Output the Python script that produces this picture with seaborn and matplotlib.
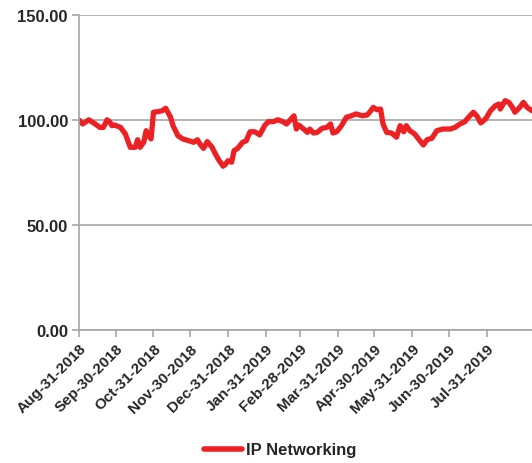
import pandas as pd
import matplotlib
matplotlib.use("Agg")
import matplotlib.pyplot as plt
import matplotlib.dates as mdates
import seaborn as sns

dates = [
    "2018-08-31", "2018-09-03", "2018-09-08", "2018-09-12", "2018-09-14", "2018-09-17",
    "2018-09-20", "2018-09-23", "2018-09-25", "2018-09-27", "2018-09-29", "2018-10-04",
    "2018-10-08", "2018-10-10", "2018-10-12", "2018-10-16", "2018-10-18", "2018-10-20",
    "2018-10-23", "2018-10-25", "2018-10-27", "2018-10-29", "2018-10-31", "2018-11-04",
    "2018-11-07", "2018-11-10", "2018-11-14", "2018-11-16", "2018-11-20", "2018-11-24",
    "2018-11-29", "2018-12-03", "2018-12-06", "2018-12-08", "2018-12-11", "2018-12-14",
    "2018-12-18", "2018-12-20", "2018-12-23", "2018-12-27", "2018-12-29", "2018-12-31",
    "2019-01-03", "2019-01-05", "2019-01-08", "2019-01-12", "2019-01-15", "2019-01-18",
    "2019-01-22", "2019-01-26", "2019-01-30", "2019-02-02", "2019-02-06", "2019-02-10",
    "2019-02-14", "2019-02-17", "2019-02-23", "2019-02-25", "2019-02-27", "2019-03-03",
    "2019-03-06", "2019-03-08", "2019-03-11", "2019-03-14", "2019-03-18", "2019-03-22",
    "2019-03-25", "2019-03-27", "2019-03-30", "2019-04-03", "2019-04-07", "2019-04-11",
    "2019-04-15", "2019-04-20", "2019-04-24", "2019-04-26", "2019-04-29", "2019-05-02",
    "2019-05-05", "2019-05-07", "2019-05-10", "2019-05-14", "2019-05-18", "2019-05-21",
    "2019-05-24", "2019-05-26", "2019-05-29", "2019-06-02", "2019-06-05", "2019-06-09",
    "2019-06-12", "2019-06-16", "2019-06-20", "2019-06-25", "2019-07-01", "2019-07-05",
    "2019-07-09", "2019-07-13", "2019-07-16", "2019-07-20", "2019-07-23", "2019-07-26",
    "2019-07-30", "2019-08-03", "2019-08-07", "2019-08-10", "2019-08-11", "2019-08-15",
    "2019-08-18", "2019-08-21", "2019-08-23", "2019-08-27", "2019-08-30", "2019-09-02",
    "2019-09-06",
]

values = [
    100.0, 98.1, 100.1, 98.6, 97.8, 96.5,
    96.5, 100.1, 99.2, 97.3, 97.6, 96.5,
    93.3, 90.1, 87.0, 87.0, 90.6, 87.0,
    89.4, 94.9, 92.5, 91.0, 103.7, 104.0,
    104.4, 105.6, 101.3, 97.3, 92.5, 91.0,
    90.1, 89.4, 90.6, 88.6, 86.5, 89.7,
    87.0, 84.6, 81.4, 78.0, 79.0, 80.6,
    79.9, 85.4, 86.5, 89.4, 90.1, 94.4,
    94.4, 92.9, 97.3, 99.2, 99.2, 100.1,
    99.2, 98.1, 102.0, 95.7, 97.6, 95.7,
    94.1, 95.7, 93.8, 94.1, 96.0, 96.5,
    98.1, 93.8, 94.4, 97.3, 101.3, 102.0,
    102.9, 102.0, 102.4, 103.7, 106.0, 104.9,
    105.2, 98.1, 94.1, 93.8, 91.8, 97.3,
    94.4, 97.3, 94.9, 93.3, 91.0, 88.1,
    90.6, 91.3, 94.9, 95.7, 95.7, 96.5,
    98.1, 99.2, 101.3, 103.7, 101.8, 98.6,
    100.5, 104.4, 106.8, 107.6, 105.2, 109.2,
    108.4, 106.0, 103.7, 106.0, 108.4, 106.0,
    104.4,
]

series_name = "IP Networking"
month_ticks = pd.date_range("2018-08-31", "2019-07-31", freq="ME")

df = pd.DataFrame({"Date": pd.to_datetime(dates), "Value": values, "Series": series_name})

sns.set_style("white")
plt.rcParams["font.family"] = ["Liberation Sans", "DejaVu Sans"]
plt.rcParams["font.weight"] = "bold"

fig = plt.figure(figsize=(5.32, 4.64), dpi=100)
ax = fig.add_axes([79 / 532, 1 - 331 / 464, 1 - 79 / 532, (331 - 16) / 464])

sns.lineplot(data=df, x="Date", y="Value", hue="Series", palette=["#ED2024"],
             linewidth=3.8, ax=ax, legend=False)

ax.set_ylim(0, 150)
ax.set_yticks([0, 50, 100, 150])
ax.set_yticklabels([f"{v:.2f}" for v in [0, 50, 100, 150]], fontsize=12, fontweight="bold")
ax.set_xlim(pd.Timestamp("2018-08-31"), pd.Timestamp("2019-09-06"))
ax.set_xticks(month_ticks)
ax.xaxis.set_major_formatter(mdates.DateFormatter("%b-%d-%Y"))
plt.setp(ax.get_xticklabels(), rotation=45, ha="right", rotation_mode="anchor",
         fontsize=11, fontweight="bold")

ax.grid(axis="y", color="#A6A6A6", linewidth=1.2)
ax.set_axisbelow(True)
for side in ["top", "right"]:
    ax.spines[side].set_visible(False)
for side in ["left", "bottom"]:
    ax.spines[side].set_color("#A6A6A6")
    ax.spines[side].set_linewidth(1.2)
ax.tick_params(axis="both", which="major", length=5, width=1.2, color="#A6A6A6",
               pad=3, bottom=True, left=True)
ax.set_xlabel("")
ax.set_ylabel("")

handle = plt.Line2D([], [], color="#ED2024", linewidth=4)
fig.legend([handle], [series_name], loc="center", bbox_to_anchor=(280 / 532, 1 - 451 / 464),
           frameon=False, prop={"weight": "bold", "size": 12}, handlelength=2.3,
           handletextpad=0.2)

fig.savefig("out.png", dpi=100)
